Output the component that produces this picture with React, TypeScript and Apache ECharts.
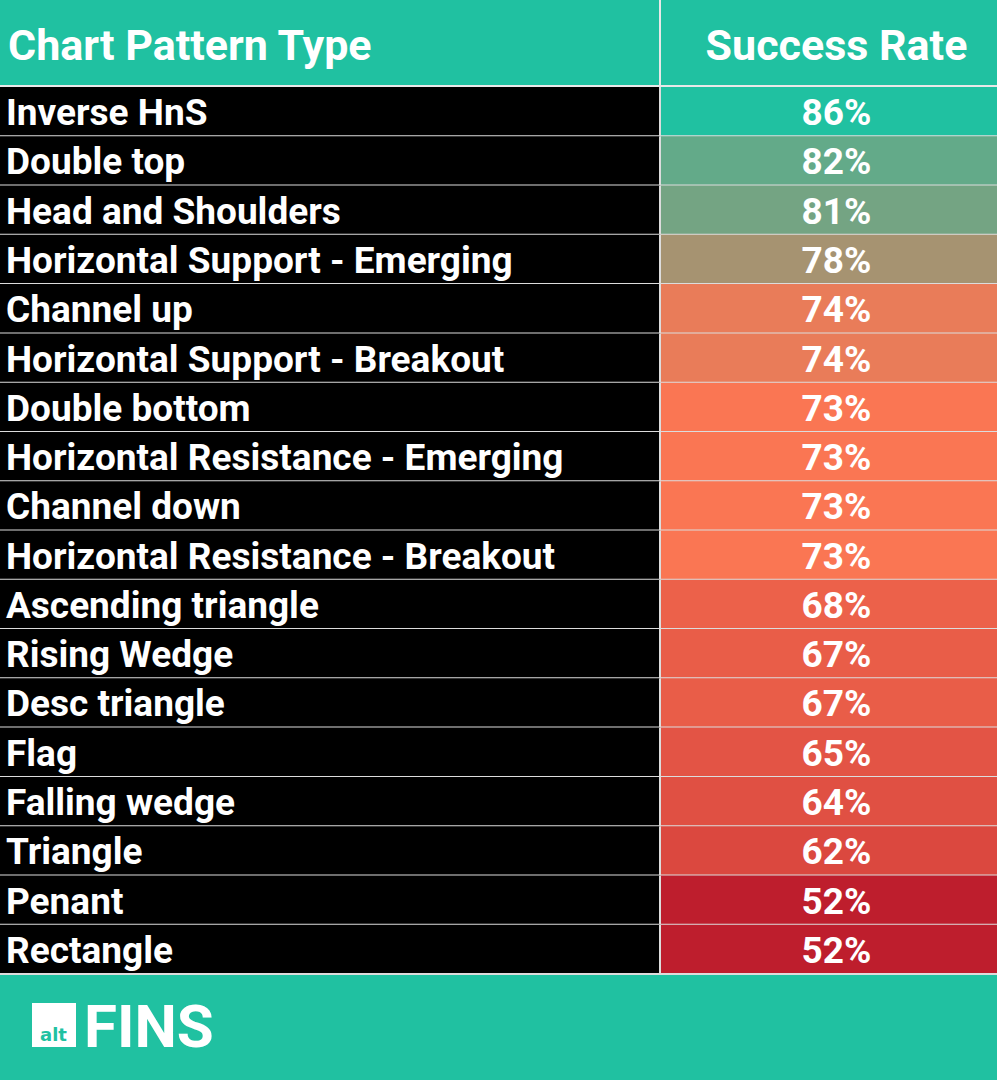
import React, { useEffect, useRef } from "react";
import * as echarts from "echarts";

const headers = ["Chart Pattern Type", "Success Rate"];
const patterns = [
  "Inverse HnS",
  "Double top",
  "Head and Shoulders",
  "Horizontal Support - Emerging",
  "Channel up",
  "Horizontal Support - Breakout",
  "Double bottom",
  "Horizontal Resistance - Emerging",
  "Channel down",
  "Horizontal Resistance - Breakout",
  "Ascending triangle",
  "Rising Wedge",
  "Desc triangle",
  "Flag",
  "Falling wedge",
  "Triangle",
  "Penant",
  "Rectangle",
];
const rates = [86, 82, 81, 78, 74, 74, 73, 73, 73, 73, 68, 67, 67, 65, 64, 62, 52, 52];

// colour scale: min -> mid -> max
const scaleStops = [52, 73, 86];
const scaleColors = ["#BE1E2D", "#FA7653", "#20C1A1"];

const TEAL = "#20C1A1";
const W = 997;
const H = 1080;
const HEADER_H = 87;
const FOOTER_H = 106;
const DIVIDER = 660;
const FONT = "Roboto, 'Noto Sans', sans-serif";

function colorFor(v: number): string {
  const [a, m, b] = scaleStops;
  if (v <= m) {
    const t = Math.max(0, (v - a) / (m - a));
    return echarts.color.lerp(t, [scaleColors[0], scaleColors[1]]) as string;
  }
  const t = Math.min(1, (v - m) / (b - m));
  return echarts.color.lerp(t, [scaleColors[1], scaleColors[2]]) as string;
}

export default function App() {
  const ref = useRef<HTMLDivElement>(null);
  useEffect(() => {
    document.body.style.margin = "0";
    if (!ref.current) return;
    const chart = echarts.init(ref.current, null, { renderer: "svg" });
    const data = rates.map((r, i) => [r, i]);
    chart.setOption({
      animation: false,
      backgroundColor: TEAL,
      grid: { left: 0, right: 0, top: HEADER_H, bottom: FOOTER_H },
      xAxis: { type: "value", min: 0, max: W, show: false },
      yAxis: { type: "category", data: patterns, inverse: true, show: false },
      series: [
        {
          type: "custom",
          encode: { x: 0, y: 1 },
          data,
          renderItem: (params: any, api: any) => {
            const idx = api.value(1);
            const rate = api.value(0);
            const [x0, yc] = api.coord([0, idx]);
            const [xd] = api.coord([DIVIDER, idx]);
            const [x1] = api.coord([W, idx]);
            const h = api.size([0, 1])[1];
            const top = yc - h / 2;
            return {
              type: "group",
              children: [
                {
                  type: "rect",
                  shape: { x: x0, y: top, width: xd - x0, height: h },
                  style: { fill: "#000" },
                },
                {
                  type: "rect",
                  shape: { x: xd, y: top, width: x1 - xd, height: h },
                  style: { fill: colorFor(rate) },
                },
                {
                  type: "line",
                  shape: { x1: x0, y1: top + h, x2: x1, y2: top + h },
                  style: { stroke: "#dcdcdc", lineWidth: 2 },
                },
                {
                  type: "line",
                  shape: { x1: xd, y1: top, x2: xd, y2: top + h },
                  style: { stroke: "#dcdcdc", lineWidth: 2 },
                },
                {
                  type: "text",
                  style: {
                    text: patterns[idx],
                    x: x0 + 6,
                    y: yc + 1,
                    fill: "#fff",
                    font: `bold 37px ${FONT}`,
                    align: "left",
                    verticalAlign: "middle",
                  },
                },
                {
                  type: "text",
                  style: {
                    text: rate + "%",
                    x: (xd + x1) / 2 + 8,
                    y: yc + 1,
                    fill: "#fff",
                    font: `bold 37px ${FONT}`,
                    align: "center",
                    verticalAlign: "middle",
                  },
                },
              ],
            };
          },
        },
      ],
      graphic: [
        {
          type: "line",
          shape: { x1: 0, y1: HEADER_H - 1, x2: W, y2: HEADER_H - 1 },
          style: { stroke: "#e8e8e8", lineWidth: 2 },
        },
        {
          type: "line",
          shape: { x1: DIVIDER, y1: 0, x2: DIVIDER, y2: HEADER_H },
          style: { stroke: "#e8e8e8", lineWidth: 2 },
        },
        {
          type: "text",
          style: {
            text: headers[0],
            x: 8,
            y: 45,
            fill: "#fff",
            font: `bold 43px ${FONT}`,
            align: "left",
            verticalAlign: "middle",
          },
        },
        {
          type: "text",
          style: {
            text: headers[1],
            x: (DIVIDER + W) / 2 + 8,
            y: 45,
            fill: "#fff",
            font: `bold 43px ${FONT}`,
            align: "center",
            verticalAlign: "middle",
          },
        },
        {
          type: "rect",
          shape: { x: 32, y: 1003, width: 44, height: 44 },
          style: { fill: "#fff" },
        },
        {
          type: "text",
          style: {
            text: "alt",
            x: 40,
            y: 1034,
            fill: TEAL,
            font: `bold 18px 'DejaVu Sans', sans-serif`,
            align: "left",
            verticalAlign: "middle",
          },
        },
        {
          type: "text",
          style: {
            text: "FINS",
            x: 84,
            y: 1026,
            fill: "#fff",
            font: `bold 60px ${FONT}`,
            align: "left",
            verticalAlign: "middle",
          },
        },
      ],
    });
    return () => chart.dispose();
  }, []);
  return <div ref={ref} style={{ width: W, height: H }} />;
}
